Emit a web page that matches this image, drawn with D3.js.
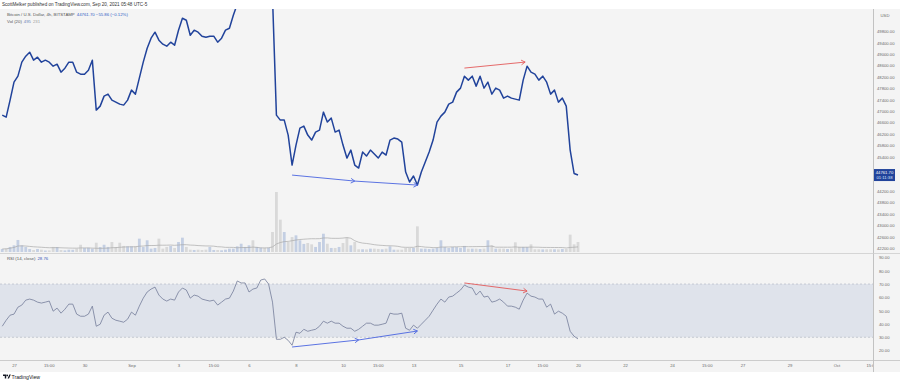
<!DOCTYPE html>
<html><head><meta charset="utf-8">
<script src="https://cdn.jsdelivr.net/npm/d3@7"></script>
<style>
html,body{margin:0;padding:0;background:#fff;}
svg{display:block;font-family:"Liberation Sans",Arial,sans-serif;}
</style></head><body>
<svg id="c" width="900" height="384"></svg>
<script>
// ---------------- data ----------------
const firstBarUTC = Date.UTC(2021, 7, 26, 12); // first 4h bar
const barHours = 4;
const price = [46862,46792,47387,48017,48227,48717,48927,49067,48787,48892,
48717,48787,48717,48577,48647,48367,48507,48717,48717,48367,
48297,48297,48437,48787,47037,47177,47527,47597,47387,47317,
47247,47212,47387,47737,47597,48157,48717,49207,49557,49767,
49487,49347,49277,49417,49312,49837,50257,50187,49662,49837,
49767,49627,49592,49627,49627,49417,49557,49837,49907,50362,
50750,51050,51400,51750,51650,52050,52450,52300,52700,51000,
46862,46687,46687,46162,45112,45812,46407,46477,46162,45987,
46267,46337,46967,46617,46757,46267,46337,45812,45357,45637,
45112,45007,45567,45427,45637,45497,45357,45567,45462,45987,
46057,46022,45917,44867,44517,44727,44412,44867,45217,45567,
45987,46617,46827,46967,47247,47317,47667,47807,48227,48087,
48227,47877,48227,47807,48017,47597,47807,47737,47457,47527,
47457,47422,47387,48087,48577,48367,48297,48087,48227,48017,
47597,47737,47317,47457,47177,45637,44817.56,44761.70];
const rsi = [38.3,42.8,46.6,47.4,52.6,54.2,57.9,58.7,57.9,56.4,
55.7,56.4,57.2,49.6,51.9,48.1,51.1,54.9,54.9,47.4,
45.8,45.8,47.4,53.4,38.3,39.8,46.6,48.9,44.3,42.8,
42.1,41.3,43.6,48.9,46.6,53.4,59.4,64.0,66.2,67.7,
61.7,58.7,57.2,58.7,57.9,64.0,67.0,65.5,59.4,61.7,
60.9,58.7,57.9,57.2,57.9,54.2,56.4,58.7,59.4,64.7,
72.3,70.8,70.8,64.0,66.2,67.0,73.0,73.8,70.0,56.4,
28.5,28.5,30.0,27.7,24.0,33.8,33.0,36.0,34.5,35.3,
36.0,38.3,42.1,40.6,42.1,40.6,40.6,38.3,36.8,36.8,
34.5,36.0,38.3,40.6,40.6,39.1,39.1,39.8,40.6,48.1,
47.4,47.4,48.1,36.8,35.3,39.1,36.8,39.8,42.8,45.8,
50.4,54.9,58.7,56.4,60.2,60.9,63.2,65.5,69.2,67.7,
67.0,61.7,64.7,60.2,60.9,56.4,57.2,58.7,56.4,53.4,
53.4,52.6,51.1,57.9,63.2,60.9,60.2,58.7,58.7,52.6,
54.9,47.4,49.6,48.1,45.8,34.5,30.8,28.76];
const volume = [150,165,250,330,595,330,250,150,100,150,
115,75,80,250,245,100,80,115,110,165,
360,200,210,165,460,245,360,250,495,245,
460,300,280,285,280,660,250,580,165,200,
660,165,250,300,200,495,710,250,115,100,
115,100,115,250,100,100,85,115,165,165,
280,410,250,330,580,250,215,210,215,990,
2970,1600,990,495,740,825,580,400,445,380,
250,495,905,410,200,200,250,445,710,330,
495,135,135,130,165,165,150,135,165,280,
115,115,115,200,200,200,1270,165,165,150,
165,200,580,250,200,250,245,200,300,165,
165,165,150,165,580,330,165,165,165,150,
165,480,250,250,245,380,135,135,130,135,
135,135,130,150,150,860,380,495];
const priceTicks = [49800,49400,49000,48600,48200,47800,47400,47000,46600,46200,
45800,45400,45000,44600,44200,43800,43400,43000,42600,42200];
const rsiTicks = [90,80,70,60,50,40,30,20];
const xTickDates = ["2021-08-27T00:00Z","2021-08-28T11:30Z","2021-08-30T00:00Z","2021-09-01T00:00Z",
"2021-09-03T00:00Z","2021-09-04T11:30Z","2021-09-06T00:00Z","2021-09-08T00:00Z","2021-09-10T00:00Z",
"2021-09-11T11:30Z","2021-09-13T00:00Z","2021-09-15T00:00Z","2021-09-17T00:00Z","2021-09-18T11:30Z",
"2021-09-20T00:00Z","2021-09-22T00:00Z","2021-09-24T00:00Z","2021-09-25T11:30Z","2021-09-27T00:00Z",
"2021-09-29T00:00Z","2021-10-01T00:00Z","2021-10-02T11:30Z"];
const xTickLabels = ["27","15:00","30","Sep","3","15:00","6","8","10","15:00","13","15","17","15:00",
"20","22","24","15:00","27","29","Oct","15:00"];
// annotations: [fromBar, fromValue, toBar, toValue]
const priceArrowsBlue = [[74, 44760, 90, 44550], [90, 44550, 106, 44410]];
const priceArrowsRed = [[118, 48510, 133.5, 48720]];
const rsiArrowsBlue = [[74, 22.7, 91, 28.0], [91, 28.0, 106, 34.7]];
const rsiArrowsRed = [[118, 70.8, 134, 64.7]];
const lastPrice = 44761.70, lastChange = -55.86, lastChangePct = -0.12;
const volLast = 495, volMA = 231;
const rsiLast = 28.76;

// ---------------- layout ----------------
const svg = d3.select("#c");
const plotR = 873, topY = 9, mainB = 253, rsiB = 360, bottomY = 372;
const barTime = i => new Date(firstBarUTC + i * barHours * 3600e3);

const x = d3.scaleUtc().domain([new Date("2021-08-27T00:00Z"), new Date("2021-10-01T00:00Z")]).range([14, 836.5]);
const yP = d3.scaleLinear().domain([42030, 50545]).range([mainB, 10]);
const yV = d3.scaleLinear().domain([0, 3000]).range([252, 191.4]);
const yR = d3.scaleLinear().domain([20, 90]).range([350.6, 257.4]);

svg.append("rect").attr("width", 900).attr("height", 384).attr("fill", "#fff");
svg.append("rect").attr("x", 0).attr("y", topY).attr("width", 900).attr("height", bottomY - topY).attr("fill", "#f4f4f4");

const defs = svg.append("defs");
defs.append("clipPath").attr("id", "clipMain").append("rect").attr("x", 0).attr("y", topY).attr("width", plotR).attr("height", mainB - topY);
defs.append("clipPath").attr("id", "clipRsi").append("rect").attr("x", 0).attr("y", mainB).attr("width", plotR).attr("height", rsiB - mainB);
defs.append("clipPath").attr("id", "clipX").append("rect").attr("x", 0).attr("y", rsiB).attr("width", plotR).attr("height", bottomY - rsiB);

// volume bars
const gMain = svg.append("g").attr("clip-path", "url(#clipMain)");
gMain.selectAll("rect.v").data(volume).join("rect")
  .attr("x", (d, i) => x(barTime(i)) - 1.4)
  .attr("width", 2.8)
  .attr("y", d => yV(d))
  .attr("height", d => yV(0) - yV(d))
  .attr("fill", (d, i) => (i === 0 || price[i] >= price[i - 1]) ? "#c4cfe3" : "#d9d9d9");
// volume MA(20)
const volMAseries = volume.map((d, i) => d3.mean(volume.slice(Math.max(0, i - 19), i + 1)));
gMain.append("path").datum(volMAseries)
  .attr("fill", "none").attr("stroke", "#a9a9a9").attr("stroke-width", 0.7)
  .attr("d", d3.line().x((d, i) => x(barTime(i))).y(d => yV(d)));
// price line
gMain.append("path").datum(price)
  .attr("fill", "none").attr("stroke", "#21439b").attr("stroke-width", 1.5).attr("stroke-linejoin", "round")
  .attr("d", d3.line().x((d, i) => x(barTime(i))).y(d => yP(d)));

function arrow(g, a, yS, color) {
  const x1 = x(barTime(a[0])), y1 = yS(a[1]), x2 = x(barTime(a[2])), y2 = yS(a[3]);
  g.append("line").attr("x1", x1).attr("y1", y1).attr("x2", x2).attr("y2", y2)
    .attr("stroke", color).attr("stroke-width", 0.9);
  const ang = Math.atan2(y2 - y1, x2 - x1), L = 4.5, s = 0.55;
  const p = [[x2 - L * Math.cos(ang - s), y2 - L * Math.sin(ang - s)], [x2, y2], [x2 - L * Math.cos(ang + s), y2 - L * Math.sin(ang + s)]];
  g.append("path").attr("d", d3.line()(p)).attr("fill", "none").attr("stroke", color).attr("stroke-width", 0.9);
}
priceArrowsBlue.forEach(a => arrow(gMain, a, yP, "#4a64e0"));
priceArrowsRed.forEach(a => arrow(gMain, a, yP, "#e35a5a"));

// RSI pane
const gR = svg.append("g").attr("clip-path", "url(#clipRsi)");
gR.append("rect").attr("x", 0).attr("width", plotR).attr("y", yR(70)).attr("height", yR(30) - yR(70)).attr("fill", "#dfe3eb");
[70, 30].forEach(v => gR.append("line").attr("x1", 0).attr("x2", plotR).attr("y1", yR(v)).attr("y2", yR(v))
  .attr("stroke", "#adb3bf").attr("stroke-width", 0.6).attr("stroke-dasharray", "2,2"));
gR.append("path").datum(rsi)
  .attr("fill", "none").attr("stroke", "#737c99").attr("stroke-width", 0.8)
  .attr("d", d3.line().x((d, i) => x(barTime(i))).y(d => yR(d)));
rsiArrowsBlue.forEach(a => arrow(gR, a, yR, "#4a64e0"));
rsiArrowsRed.forEach(a => arrow(gR, a, yR, "#e35a5a"));

// frame lines
svg.append("line").attr("x1", plotR + 0.5).attr("x2", plotR + 0.5).attr("y1", topY).attr("y2", bottomY).attr("stroke", "#b5b5b5").attr("stroke-width", 0.8);
svg.append("line").attr("x1", 0).attr("x2", 900).attr("y1", mainB + 0.5).attr("y2", mainB + 0.5).attr("stroke", "#cdcdcd").attr("stroke-width", 0.8);
svg.append("line").attr("x1", 0).attr("x2", 900).attr("y1", rsiB + 0.5).attr("y2", rsiB + 0.5).attr("stroke", "#c2c2c2").attr("stroke-width", 0.8);

// price axis (labels hidden behind the last-price box are skipped, as TradingView does)
const ly = yP(lastPrice);
const shownPriceTicks = priceTicks.filter(v => Math.abs(yP(v) - ly) > 7.5);
const axP = svg.append("g").attr("transform", `translate(${plotR},0)`)
  .call(d3.axisRight(yP).tickValues(shownPriceTicks).tickFormat(d3.format(".2f")).tickSize(0).tickPadding(4));
axP.select(".domain").remove();
axP.selectAll("text").attr("font-size", 4.2).attr("fill", "#6a6a6a").attr("font-family", "Liberation Sans, Arial, sans-serif");
svg.append("text").attr("x", 885).attr("y", 16.5).attr("text-anchor", "middle").attr("font-size", 4.2).attr("fill", "#6a6a6a").text("USD");
// last price box
svg.append("rect").attr("x", plotR + 1).attr("y", ly - 6).attr("width", 21).attr("height", 12).attr("fill", "#21439b");
svg.append("text").attr("x", plotR + 11.5).attr("y", ly - 1).attr("text-anchor", "middle").attr("font-size", 4.2).attr("fill", "#fff").text(lastPrice.toFixed(2));
svg.append("text").attr("x", plotR + 11.5).attr("y", ly + 4.2).attr("text-anchor", "middle").attr("font-size", 4.2).attr("fill", "#dfe6ff").text("01:11:38");

// RSI axis
const axR = svg.append("g").attr("transform", `translate(${plotR},0)`)
  .call(d3.axisRight(yR).tickValues(rsiTicks).tickFormat(d3.format(".2f")).tickSize(0).tickPadding(6));
axR.select(".domain").remove();
axR.selectAll("text").attr("font-size", 4.2).attr("fill", "#6a6a6a").attr("font-family", "Liberation Sans, Arial, sans-serif");

// time axis
const axX = svg.append("g").attr("clip-path", "url(#clipX)").append("g").attr("transform", `translate(0,${rsiB + 2})`)
  .call(d3.axisBottom(x).tickValues(xTickDates.map(d => new Date(d))).tickFormat((d, i) => xTickLabels[i]).tickSize(0).tickPadding(2));
axX.select(".domain").remove();
axX.selectAll("text").attr("font-size", 4.2).attr("fill", "#6a6a6a").attr("font-family", "Liberation Sans, Arial, sans-serif");

// header texts
svg.append("text").attr("x", 2).attr("y", 6.3).attr("font-size", 4.6).attr("fill", "#333")
  .text("ScottMelker published on TradingView.com, Sep 20, 2021 05:48 UTC-5");
const t1 = svg.append("text").attr("x", 7).attr("y", 16.3).attr("font-size", 4.3).attr("fill", "#555");
t1.append("tspan").text("Bitcoin / U.S. Dollar, 4h, BITSTAMP");
t1.append("tspan").attr("dx", 2).attr("fill", "#2f5bc4").text(`${lastPrice.toFixed(2)}  \u221255.86 (\u22120.12%)`);
const t2 = svg.append("text").attr("x", 7).attr("y", 22.5).attr("font-size", 4.3).attr("fill", "#555");
t2.append("tspan").text("Vol (20)");
t2.append("tspan").attr("dx", 2).attr("fill", "#6d83b8").text(volLast);
t2.append("tspan").attr("dx", 2).attr("fill", "#9c9c9c").text(volMA);
const t3 = svg.append("text").attr("x", 7).attr("y", 259.5).attr("font-size", 4.3).attr("fill", "#555");
t3.append("tspan").text("RSI (14, close)");
t3.append("tspan").attr("dx", 2).attr("fill", "#3a55b8").text(rsiLast.toFixed(2));

// TradingView footer
const lg = svg.append("g").attr("transform", "translate(3,374.5)");
lg.append("path").attr("d", "M0,0h3.2v4h-1.4v-2.6h-1.8z").attr("fill", "#131722");
lg.append("circle").attr("cx", 4.2).attr("cy", 0.9).attr("r", 0.9).attr("fill", "#131722");
lg.append("path").attr("d", "M4.6,4L6.4,0H7.8L6,4z").attr("fill", "#131722");
svg.append("text").attr("x", 11.5).attr("y", 378.5).attr("font-size", 5.2).attr("fill", "#131722").text("TradingView");
</script>
</body></html>
